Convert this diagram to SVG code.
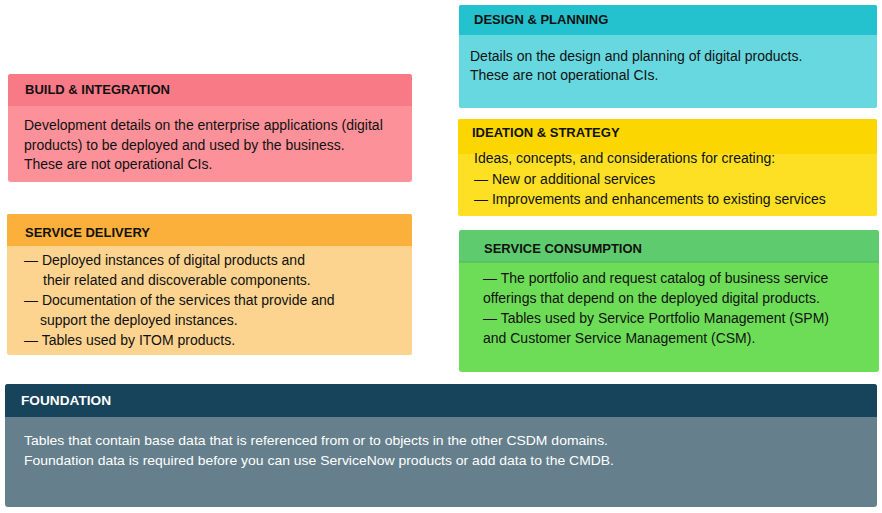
<svg xmlns="http://www.w3.org/2000/svg" width="882" height="513" viewBox="0 0 882 513">
<style>
.h{font-family:"Liberation Sans",Arial,sans-serif;font-weight:bold;font-size:13px;fill:#111}
.t{font-family:"Liberation Sans",Arial,sans-serif;font-size:14px;fill:#111}
.fh{font-family:"Liberation Sans",Arial,sans-serif;font-weight:bold;font-size:13px;fill:#fff}
.ft{font-family:"Liberation Sans",Arial,sans-serif;font-size:13.5px;fill:#fff}
</style>
<rect width="882" height="513" fill="#fff"/>
<g id="build">
<rect x="8" y="74" width="404" height="108" rx="3" fill="#fd9199"/>
<path d="M11 74h398a3 3 0 0 1 3 3v29H8V77a3 3 0 0 1 3-3z" fill="#f87a87"/>
<text class="h" x="25" y="94">BUILD &amp; INTEGRATION</text>
<text class="t" x="24" y="130">Development details on the enterprise applications (digital</text>
<text class="t" x="24" y="150">products) to be deployed and used by the business.</text>
<text class="t" x="24" y="169">These are not operational CIs.</text>
</g>
<g id="design">
<rect x="459" y="5" width="418" height="103" rx="2" fill="#68d8e0"/>
<path d="M461 5h414a2 2 0 0 1 2 2v28H459V7a2 2 0 0 1 2-2z" fill="#24c2cf"/>
<text class="h" x="474" y="24">DESIGN &amp; PLANNING</text>
<text class="t" x="470" y="61">Details on the design and planning of digital products.</text>
<text class="t" x="470" y="80">These are not operational CIs.</text>
</g>
<g id="ideation">
<rect x="458" y="119" width="419" height="97" rx="2" fill="#fde023"/>
<path d="M460 119h415a2 2 0 0 1 2 2v33H458V121a2 2 0 0 1 2-2z" fill="#fbd600"/>
<text class="h" x="472" y="137">IDEATION &amp; STRATEGY</text>
<text class="t" x="474" y="163">Ideas, concepts, and considerations for creating:</text>
<text class="t" x="474" y="184">— New or additional services</text>
<text class="t" x="474" y="204">— Improvements and enhancements to existing services</text>
</g>
<g id="delivery">
<rect x="7" y="214" width="405" height="141" rx="2" fill="#fcd490"/>
<path d="M9 214h401a2 2 0 0 1 2 2v30H7V216a2 2 0 0 1 2-2z" fill="#fbb03b"/>
<text class="h" x="25" y="237">SERVICE DELIVERY</text>
<text class="t" x="24" y="265">— Deployed instances of digital products and</text>
<text class="t" x="43" y="285">their related and discoverable components.</text>
<text class="t" x="24" y="305">— Documentation of the services that provide and</text>
<text class="t" x="40" y="325">support the deployed instances.</text>
<text class="t" x="24" y="345">— Tables used by ITOM products.</text>
</g>
<g id="consumption">
<rect x="459" y="230" width="420" height="142" rx="3" fill="#6ddd58"/>
<path d="M462 230h414a3 3 0 0 1 3 3v29H459V233a3 3 0 0 1 3-3z" fill="#5ecb6e"/>
<line x1="459" y1="262" x2="879" y2="262" stroke="#4fb06a" stroke-width="1"/>
<text class="h" x="484" y="253">SERVICE CONSUMPTION</text>
<text class="t" x="483" y="283">— The portfolio and request catalog of business service</text>
<text class="t" x="483" y="303">offerings that depend on the deployed digital products.</text>
<text class="t" x="483" y="323">— Tables used by Service Portfolio Management (SPM)</text>
<text class="t" x="483" y="343">and Customer Service Management (CSM).</text>
</g>
<g id="foundation">
<rect x="5" y="384" width="872" height="123" rx="3" fill="#65808c"/>
<path d="M8 384h866a3 3 0 0 1 3 3v30H5V387a3 3 0 0 1 3-3z" fill="#17435b"/>
<text class="fh" x="21" y="405" textLength="90" lengthAdjust="spacingAndGlyphs">FOUNDATION</text>
<text class="ft" x="24" y="445" textLength="584" lengthAdjust="spacingAndGlyphs">Tables that contain base data that is referenced from or to objects in the other CSDM domains.</text>
<text class="ft" x="24" y="465" textLength="590" lengthAdjust="spacingAndGlyphs">Foundation data is required before you can use ServiceNow products or add data to the CMDB.</text>
</g>
<g id="connectors"></g>
</svg>
